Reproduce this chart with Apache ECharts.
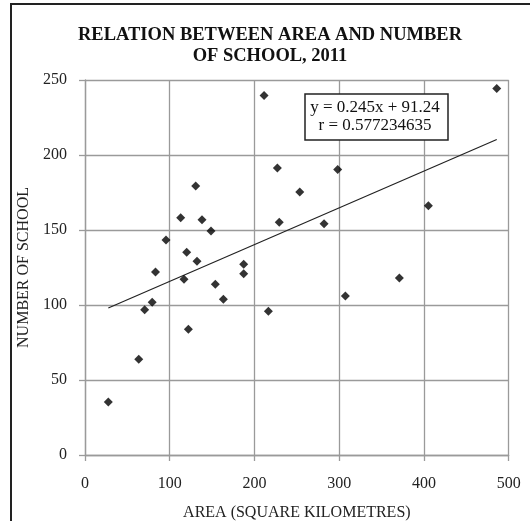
<!DOCTYPE html>
<html>
<head>
<meta charset="utf-8">
<script src="https://cdn.jsdelivr.net/npm/echarts@6/dist/echarts.min.js"></script>
<style>html,body{margin:0;padding:0;background:#fff;}#c{width:530px;height:521px;}</style>
</head>
<body>
<div id="c"></div>
<script>
const titleLines = ["RELATION BETWEEN AREA AND NUMBER", "OF SCHOOL, 2011"];
const xTitle = "AREA (SQUARE KILOMETRES)";
const yTitle = "NUMBER OF SCHOOL";
const areaValues = [27.5, 63.4, 70.4, 79.3, 83.2, 95.6, 112.9, 116.8, 120, 122, 130.6, 132.2, 138.1, 148.7, 153.8, 163.3, 187.3, 187.3, 211.3, 216.4, 227, 229.2, 253.4, 282.1, 298.2, 307.3, 371, 405.2, 485.9];
const schoolValues = [35.3, 63.8, 96.9, 101.8, 122, 143.3, 158.2, 117.1, 135.1, 83.8, 179.3, 129.1, 156.9, 149.3, 113.8, 103.8, 127.1, 120.9, 239.6, 95.8, 191.3, 155.1, 175.3, 154.2, 190.4, 106, 118, 166.2, 244.4];
const trendSlope = 0.245;
const trendIntercept = 91.24;
const equationLines = ["y = 0.245x + 91.24", "r = 0.577234635"];
const xTicks = [0, 100, 200, 300, 400, 500];
const yTicks = [0, 50, 100, 150, 200, 250];

const pts = areaValues.map((x, i) => [x, schoolValues[i]]);
const xMin = Math.min(...areaValues), xMax = Math.max(...areaValues);
const trend = [[xMin, trendSlope * xMin + trendIntercept], [xMax, trendSlope * xMax + trendIntercept]];

const serif = "'Liberation Serif', 'DejaVu Serif', serif";
const gridColor = '#9a9a9a';
const chart = echarts.init(document.getElementById('c'), null, {renderer: 'canvas'});
chart.setOption({
  animation: false,
  backgroundColor: '#fff',
  title: {
    text: titleLines.join('\n'),
    left: 265, top: 20, textAlign: 'center',
    textStyle: {fontFamily: serif, fontSize: 18.5, fontWeight: 'bold', color: '#111', lineHeight: 21}
  },
  grid: {left: 85, top: 80, right: 21.3, bottom: 66, containLabel: false, outerBoundsMode: 'none'},
  xAxis: {
    type: 'value', min: xTicks[0], max: xTicks[xTicks.length - 1], interval: 100,
    name: xTitle, nameLocation: 'middle', nameGap: 50,
    nameTextStyle: {fontFamily: serif, fontSize: 16, color: '#222'},
    axisLine: {show: true, lineStyle: {color: gridColor, width: 1.3}},
    axisTick: {show: true, length: 6, lineStyle: {color: gridColor, width: 1.3}},
    axisLabel: {fontFamily: serif, fontSize: 16, color: '#222', margin: 21},
    splitLine: {show: true, lineStyle: {color: gridColor, width: 1.3}}
  },
  yAxis: {
    type: 'value', min: yTicks[0], max: yTicks[yTicks.length - 1], interval: 50,
    name: yTitle, nameLocation: 'middle', nameGap: 53, nameRotate: 90,
    nameTextStyle: {fontFamily: serif, fontSize: 16, color: '#222'},
    axisLine: {show: true, lineStyle: {color: gridColor, width: 1.3}},
    axisTick: {show: true, length: 6, lineStyle: {color: gridColor, width: 1.3}},
    axisLabel: {fontFamily: serif, fontSize: 16, color: '#222', margin: 18},
    splitLine: {show: true, lineStyle: {color: gridColor, width: 1.3}}
  },
  series: [
    {
      type: 'line', data: trend, symbol: 'none', silent: true,
      lineStyle: {color: '#222', width: 1.2}, z: 2
    },
    {
      type: 'scatter', data: pts, symbol: 'diamond', symbolSize: 9,
      itemStyle: {color: '#000'}, z: 3
    }
  ],
  graphic: [
    {type: 'rect', shape: {x: 11, y: 4, width: 560, height: 560}, style: {fill: 'none', stroke: '#222', lineWidth: 2}, silent: true},
    {type: 'rect', shape: {x: 305, y: 94, width: 143, height: 46}, style: {fill: '#fff', stroke: '#222', lineWidth: 1.5}, z: 10},
    {type: 'text', x: 375, y: 108, style: {text: equationLines[0], fontFamily: serif, fontSize: 17, fill: '#111', align: 'center', verticalAlign: 'middle'}, z: 11},
    {type: 'text', x: 375, y: 126, style: {text: equationLines[1], fontFamily: serif, fontSize: 17, fill: '#111', align: 'center', verticalAlign: 'middle'}, z: 11}
  ]
});
</script>
</body>
</html>
